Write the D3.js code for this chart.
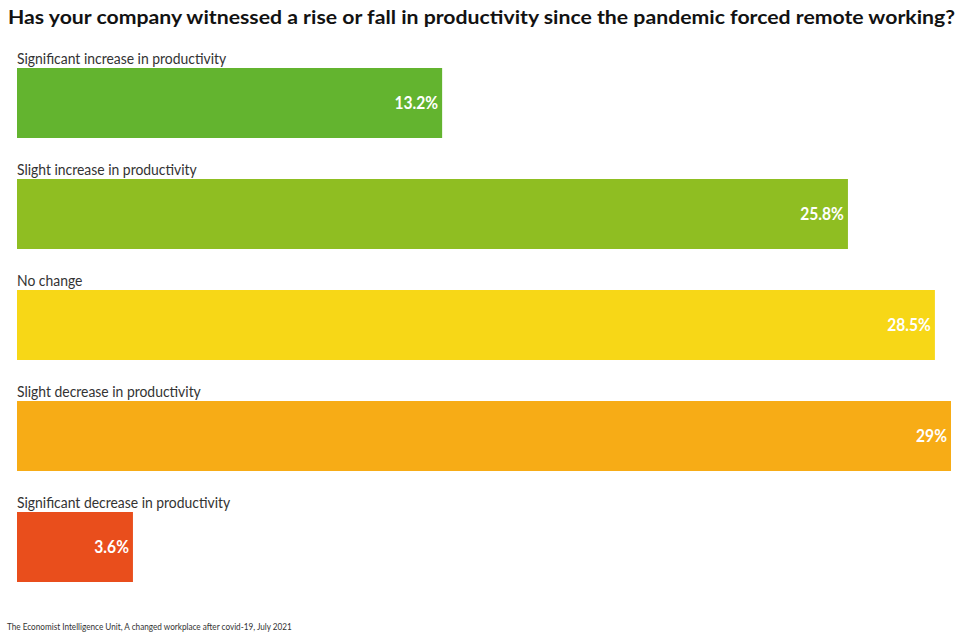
<!DOCTYPE html>
<html><head><meta charset="utf-8">
<script src="https://cdn.jsdelivr.net/npm/d3@7"></script>
<style>body{margin:0;background:#fff;}svg{display:block;}</style>
</head><body>
<script>
const categories = ["Significant increase in productivity","Slight increase in productivity","No change","Slight decrease in productivity","Significant decrease in productivity"];
const values = [13.2, 25.8, 28.5, 29, 3.6];
const valueLabels = ["13.2%","25.8%","28.5%","29%","3.6%"];
const colors = ["#63b42f","#8fbe22","#f7d717","#f7ac16","#e94e1c"];
const title = "Has your company witnessed a rise or fall in productivity since the pandemic forced remote working?";
const source = "The Economist Intelligence Unit, A changed workplace after covid-19, July 2021";

const W = 961, H = 637;
const svg = d3.select("body").append("svg").attr("width", W).attr("height", H);
const x = d3.scaleLinear().domain([0, 29]).range([17, 951]);
const y = d3.scaleBand().domain(categories).range([68, 582]).paddingInner(41/111).paddingOuter(0);

svg.append("text").attr("x", 8).attr("y", 24).text(title)
  .attr("font-family", "Lato, 'Open Sans', sans-serif").attr("font-weight", 700)
  .attr("font-size", 19.6).attr("fill", "#121212").attr("textLength", 947).attr("lengthAdjust","spacingAndGlyphs");

const g = svg.append("g");
categories.forEach((c, i) => {
  g.append("rect").attr("x", x(0)).attr("y", y(c)).attr("width", x(values[i]) - x(0)).attr("height", y.bandwidth()).attr("fill", colors[i]);
  g.append("text").attr("transform", `translate(${x(0)},${y(c) - 4}) scale(0.96,1)`).text(c)
    .attr("font-family", "Lato, 'Open Sans', sans-serif").attr("font-size", 14.5).attr("fill", "#333");
  g.append("text").attr("transform", `translate(${x(values[i]) - 4},${y(c) + y.bandwidth()/2 + 6}) scale(0.92,1)`).text(valueLabels[i])
    .attr("text-anchor", "end").attr("font-family", "Lato, 'Open Sans', sans-serif")
    .attr("font-weight", 700).attr("font-size", 17).attr("fill", "#fff");
});

svg.append("text").attr("transform", "translate(7,630) scale(0.91,1)").text(source)
  .attr("font-family", "Lato, sans-serif").attr("font-size", 9).attr("fill", "#333");
</script>
</body></html>
